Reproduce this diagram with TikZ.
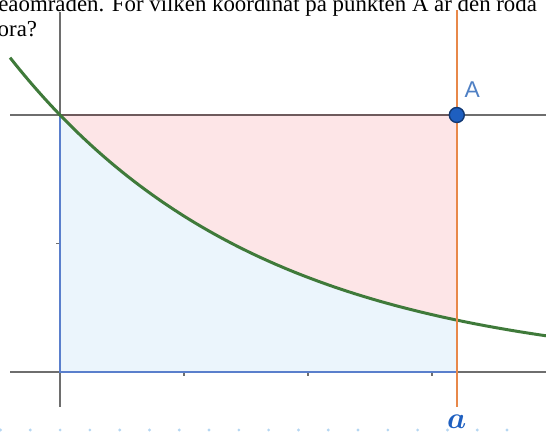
\documentclass[tikz,border=0pt]{standalone}
\usepackage{fontspec}
\setmainfont{Liberation Serif}
\setsansfont{Liberation Sans}
\usetikzlibrary{arrows.meta,calc,positioning}
\definecolor{axisgray}{HTML}{6E6E6E}
\definecolor{topline}{HTML}{6E5A5C}
\definecolor{curvegreen}{HTML}{3F7A3A}
\definecolor{aorange}{HTML}{E8884A}
\definecolor{ptblue}{HTML}{1E5FC0}
\definecolor{lblblue}{HTML}{4F80C4}
\definecolor{edgeblue}{HTML}{5A7FCC}
\definecolor{redfill}{HTML}{FDE5E7}
\definecolor{bluefill}{HTML}{EBF5FC}
\definecolor{dotblue}{HTML}{B5D6F2}

\begin{document}
\begin{tikzpicture}[x=2.48cm,y=5.14cm,font=\small]
  \tikzset{
    axis/.style={draw=axisgray,line width=1.1pt},
    tick/.style={draw=axisgray,line width=0.9pt},
    curve/.style={draw=curvegreen,line width=1.7pt},
    vline/.style={draw=aorange,line width=1.4pt},
    edge/.style={draw=edgeblue,line width=1.1pt},
    qtext/.style={inner sep=0pt,font=\fontsize{13}{15}\selectfont}
  }
  \useasboundingbox (-0.4839,-0.2335) rectangle (3.9194,1.4475);

  % Question text, cut at the top edge
  \node[qtext,anchor=base west] (q1) at (-0.500,1.402)
    {eaområden. För vilken koordinat på punkten A är den röda};
  \node[qtext,anchor=base west] (q2) at (-0.505,1.3035) {ora?};

  % Shaded areas
  \fill[redfill] (0,1) -- (3.2,1) -- (3.2,{exp(-1.6)})
    -- plot[domain=3.2:0,samples=60] (\x,{exp(-0.5*\x)}) -- cycle;
  \fill[bluefill] (0,0) -- (3.2,0) -- (3.2,{exp(-1.6)})
    -- plot[domain=3.2:0,samples=60] (\x,{exp(-0.5*\x)}) -- cycle;

  % Axes and the line y = 1
  \coordinate (o) at (0,0);
  \draw[axis] (-0.403,0) -- (3.92,0);
  \draw[axis] (0,-0.136) -- (0,1.401);
  \draw[axis,line width=1.3pt] (-0.403,1) -- (3.92,1);
  \draw[draw=topline,line width=1.3pt] (0,1) -- (3.2,1);
  \foreach \t in {1,2,3}
    \draw[tick] (\t,0) -- (\t,-0.016);
  \draw[tick] (0,0.5) -- (-0.03,0.5);

  % Blue area edges
  \draw[edge] (0,1) -- (o) -- (3.2,0);

  % Curve
  \draw[curve] plot[domain=-0.403:3.92,samples=100] (\x,{exp(-0.5*\x)});

  % Vertical line x = a and point A
  \draw[vline] (3.2,-0.136) -- (3.2,1.409);
  \node[circle,fill=ptblue,draw=ptblue!60!black,line width=0.8pt,
        inner sep=0pt,minimum size=0.3cm] (A) at (3.2,1) {};
  \node[text=lblblue,font=\sffamily\fontsize{13}{15}\selectfont] (Alabel)
    at (3.325,1.097) {A};
  \node[text=ptblue,font=\fontsize{19}{20}\selectfont\boldmath] (alabel)
    at (3.2,-0.192) {$a$};

  % Dotted guide at the bottom edge
  \foreach \k in {0,...,17}
    \fill[dotblue] ({-0.4799+0.2403*\k},-0.2257) circle (0.9pt);
\end{tikzpicture}
\end{document}
